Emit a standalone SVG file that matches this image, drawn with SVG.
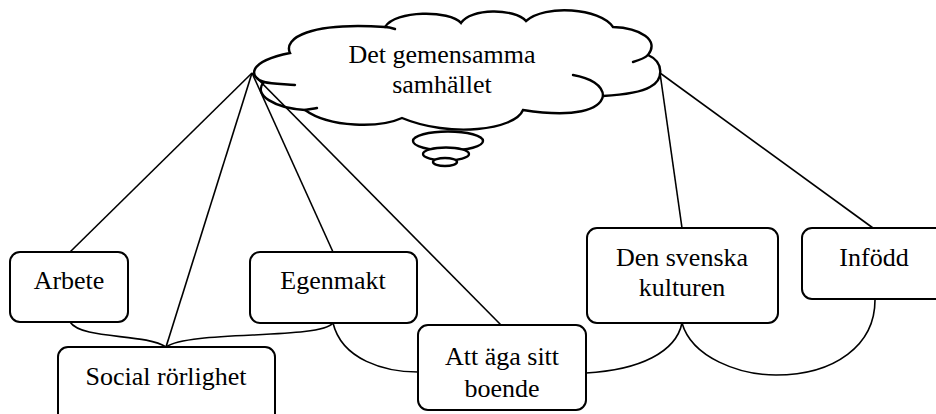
<svg xmlns="http://www.w3.org/2000/svg" width="936" height="414" viewBox="0 0 936 414">
<style>
.box{fill:#fff;stroke:#000;stroke-width:2}
.cl{fill:#fff;stroke:#000;stroke-width:2.4;stroke-linecap:round}
.tail{fill:none;stroke:#000;stroke-width:2.4;stroke-linecap:round}
.ln{fill:none;stroke:#000;stroke-width:1.6}
text{font-family:"Liberation Serif","Times New Roman",serif;font-size:26px;fill:#000;text-anchor:middle}
</style>
<rect width="936" height="414" fill="#fff"/>
<g id="cloud">
<path class="cl" d="M290,53 C283,38 310,22 385,27 C395,10 450,10 461,23 C470,8 515,8 526,21 C545,4 600,8 613,27 C640,28 660,40 648,55 C664,62 664,80 650,87 C640,93 620,95 603,96 C600,110 575,118 523,110 C515,130 450,138 402,118 C380,128 330,128 305,110 C275,108 252,95 264,82 C250,78 245,62 290,53 Z"/>
<path class="tail" d="M648,55 C645,58 640,60 633,62"/>
<path class="tail" d="M603,96 C603,85 590,78 573,75"/>
<path class="tail" d="M264,82 C272,84 285,84 295,85"/>
<path class="tail" d="M305,110 C310,109 313,109 317,108"/>
<path class="tail" d="M385,27 C389,27 392,28 395,29"/>
<text x="442" y="63">Det gemensamma</text>
<text x="442" y="93">samhället</text>
</g>
<g id="bubbles">
<ellipse class="cl" cx="448" cy="141" rx="35" ry="9.5"/>
<ellipse class="cl" cx="446" cy="154" rx="23" ry="6.5"/>
<ellipse class="cl" cx="445" cy="162" rx="12" ry="4"/>
</g>
<g id="connectors">
<path class="ln" d="M252,73 L70,252"/>
<path class="ln" d="M252,73 L166,347"/>
<path class="ln" d="M252,73 L333,252"/>
<path class="ln" d="M252,73 L501,325"/>
<path class="ln" d="M660,73 L682,228"/>
<path class="ln" d="M660,73 L873,228"/>
<path class="ln" d="M70,322 C82,340 145,333 166,347"/>
<path class="ln" d="M333,323 C320,340 190,330 166,347"/>
<path class="ln" d="M333,323 C342,360 385,372 418,372"/>
<path class="ln" d="M586,373 C640,370 676,352 682,323"/>
<path class="ln" d="M682,323 C692,358 740,375 776,375 C835,375 875,345 875,300"/>
</g>
<g id="n-arbete">
<rect class="box" x="10" y="252" width="118" height="70" rx="10"/>
<text x="69" y="289">Arbete</text>
</g>
<g id="n-egenmakt">
<rect class="box" x="250" y="252" width="167" height="71" rx="10"/>
<text x="333" y="289">Egenmakt</text>
</g>
<g id="n-social">
<rect class="box" x="58" y="347" width="217" height="80" rx="10"/>
<text x="166" y="385">Social rörlighet</text>
</g>
<g id="n-boende">
<rect class="box" x="418" y="325" width="168" height="85" rx="10"/>
<text x="502" y="365">Att äga sitt</text>
<text x="502" y="397">boende</text>
</g>
<g id="n-kulturen">
<rect class="box" x="587" y="228" width="191" height="95" rx="10"/>
<text x="682" y="266">Den svenska</text>
<text x="682" y="296">kulturen</text>
</g>
<g id="n-infodd">
<rect class="box" x="802" y="228" width="150" height="71" rx="10"/>
<text x="874" y="266">Infödd</text>
</g>
</svg>
